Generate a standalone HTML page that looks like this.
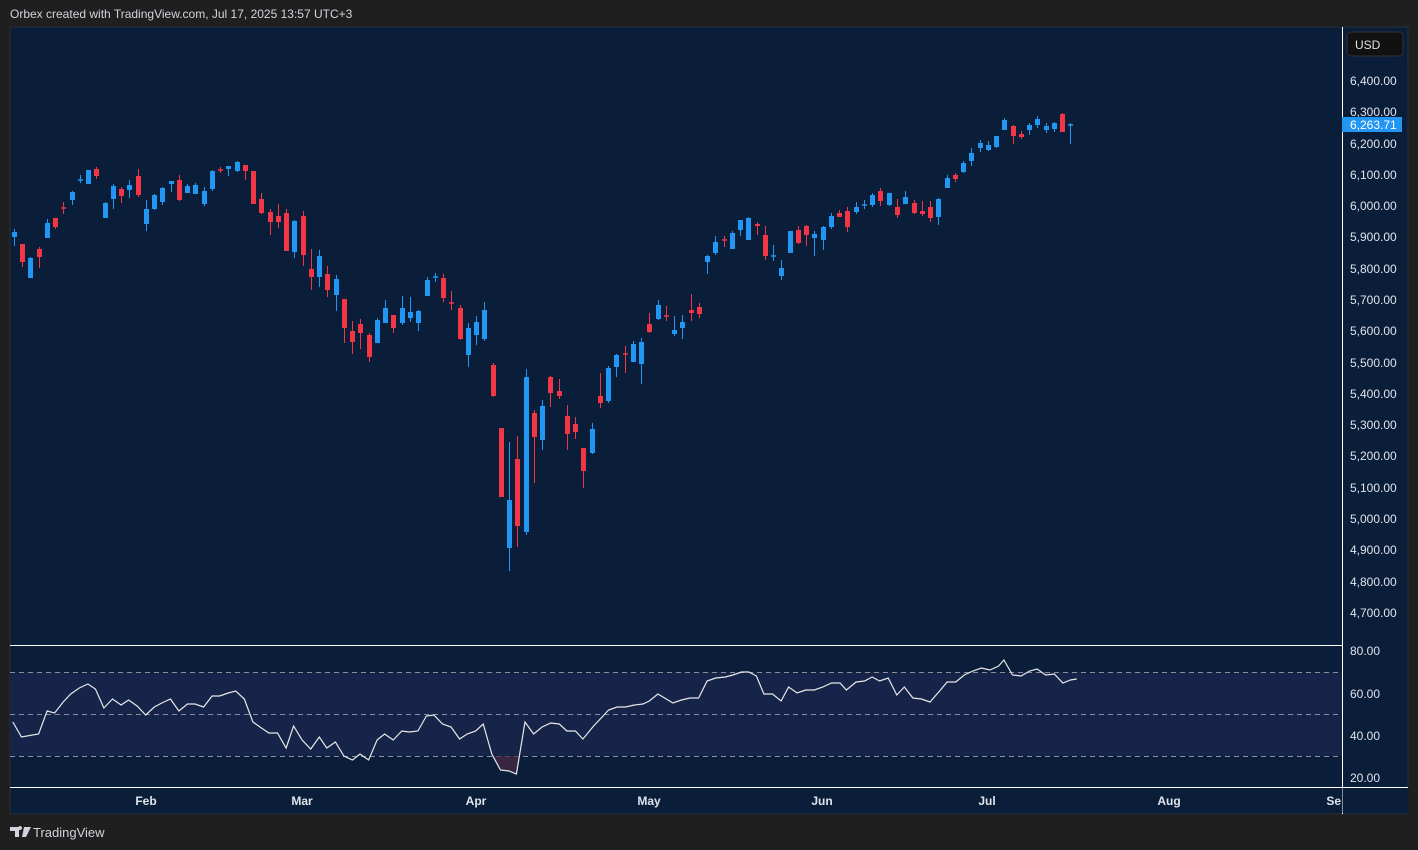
<!DOCTYPE html>
<html><head><meta charset="utf-8"><style>
html,body{margin:0;padding:0;background:#1f1f1f;width:1418px;height:850px;overflow:hidden;font-family:"Liberation Sans",sans-serif}
svg{position:absolute;left:0;top:0}
</style></head><body>
<svg id="s" width="1418" height="850" xmlns="http://www.w3.org/2000/svg" font-family="Liberation Sans, sans-serif">
<rect x="0" y="0" width="1418" height="850" fill="#1f1f1f"/>
<text x="10" y="18" fill="#d1d4dc" font-size="12">Orbex created with TradingView.com, Jul 17, 2025 13:57 UTC+3</text>
<rect x="10" y="27" width="1398" height="787" fill="#0a1e3a" stroke="#2a2e39" stroke-width="1"/>
<rect x="10" y="672" width="1332" height="84" fill="#17244a"/>
<g stroke="#8a8f9a" stroke-dasharray="5,4" stroke-width="1">
<line x1="10" y1="672.5" x2="1342" y2="672.5"/><line x1="10" y1="714.5" x2="1342" y2="714.5"/><line x1="10" y1="756.5" x2="1342" y2="756.5"/>
</g>
<path d="M492,756 L501,770 L509,771 L517,774 L520,756Z" fill="#4a2a45" opacity="0.7"/>
<line x1="10" y1="645.5" x2="1342" y2="645.5" stroke="#ffffff" stroke-width="1"/>
<line x1="10" y1="787.5" x2="1408" y2="787.5" stroke="#ffffff" stroke-width="1"/>
<line x1="1342.5" y1="27" x2="1342.5" y2="814" stroke="#ffffff" stroke-width="1"/>
<g id="c"></g>
<polyline id="rsi" fill="none" stroke="#e8e8e8" stroke-width="1.2"/>
<rect x="1347" y="32" width="56" height="24" rx="4" fill="#111111" stroke="#333" />
<text x="1355" y="49" fill="#e0e0e0" font-size="12">USD</text>
<g fill="#e0e3eb" font-size="12">
<text x="1350" y="85">6,400.00</text>
<text x="1350" y="116">6,300.00</text>
<text x="1350" y="148">6,200.00</text>
<text x="1350" y="179">6,100.00</text>
<text x="1350" y="210">6,000.00</text>
<text x="1350" y="241">5,900.00</text>
<text x="1350" y="273">5,800.00</text>
<text x="1350" y="304">5,700.00</text>
<text x="1350" y="335">5,600.00</text>
<text x="1350" y="367">5,500.00</text>
<text x="1350" y="398">5,400.00</text>
<text x="1350" y="429">5,300.00</text>
<text x="1350" y="460">5,200.00</text>
<text x="1350" y="492">5,100.00</text>
<text x="1350" y="523">5,000.00</text>
<text x="1350" y="554">4,900.00</text>
<text x="1350" y="586">4,800.00</text>
<text x="1350" y="617">4,700.00</text>
<text x="1350" y="655">80.00</text>
<text x="1350" y="698">60.00</text>
<text x="1350" y="740">40.00</text>
<text x="1350" y="782">20.00</text>
</g>
<rect x="1342" y="117" width="60" height="15" fill="#2196f3"/>
<text x="1350" y="129" fill="#ffffff" font-size="12">6,263.71</text>
<g fill="#e0e3eb" font-size="12" font-weight="bold" text-anchor="middle">
<text x="146" y="805">Feb</text><text x="302" y="805">Mar</text><text x="476" y="805">Apr</text>
<text x="649" y="805">May</text><text x="822" y="805">Jun</text><text x="987" y="805">Jul</text>
<text x="1169" y="805">Aug</text><text x="1341" y="805" text-anchor="end">Se</text>
</g>
<rect x="1342.5" y="788" width="66" height="25" fill="#0a1e3a"/>
<path d="M10,827 h9 v10 h-4 v-6 h-5z M20,830 a2,2 0 1,1 0.1,0z M24,827 h7 l-5,10 h-4z" fill="#d1d4dc"/>
<text x="33" y="837" fill="#d1d4dc" font-size="13">TradingView</text>
</svg>
<script>
var B="#2196f3",R="#f23645";
var d=[[14,B,232,237,229,246],[22,R,244,262,244,267],[30,B,258,278,257,278],[39,R,249,257,247,268],[47,B,223,238,219,238],[55,R,218,227,218,229],[63,R,208,208,202,214],[72,B,192,200,191,205],[80,B,180,180,175,183],[88,B,170,184,170,184],[96,R,169,176,167,179],[105,B,203,218,202,218],[113,B,186,199,184,209],[121,R,189,196,187,203],[129,B,185,190,180,198],[138,R,176,195,169,197],[146,B,209,224,200,231],[154,B,195,209,194,210],[162,B,188,202,187,205],[171,B,181,184,181,192],[179,R,180,200,175,201],[187,B,186,193,184,193],[195,B,185,194,183,194],[204,B,191,204,187,206],[212,B,171,189,170,191],[220,R,170,170,167,173],[228,B,166,169,166,176],[237,B,162,171,161,172],[245,R,165,171,165,180],[253,R,171,204,171,204],[261,R,199,213,193,214],[270,R,212,222,209,235],[278,R,216,222,204,228],[286,R,213,251,209,251],[294,B,221,252,220,258],[303,R,216,255,211,266],[311,R,269,277,249,290],[319,B,256,277,250,287],[327,R,274,290,266,297],[336,B,279,295,275,311],[344,R,299,328,299,343],[352,R,331,342,321,354],[360,R,324,333,319,349],[369,R,335,357,333,362],[377,B,320,343,318,343],[385,B,308,323,300,323],[393,R,315,328,315,333],[402,B,308,323,296,325],[410,B,312,318,297,322],[418,B,311,323,310,331],[427,B,280,296,277,296],[435,B,277,277,273,282],[443,R,278,298,274,302],[451,R,303,303,291,310],[460,R,308,339,305,340],[468,B,328,355,323,367],[476,B,322,335,316,345],[484,B,310,339,302,341],[493,R,365,396,363,397],[501,R,428,497,428,497],[509,B,500,548,442,571],[517,R,459,526,436,547],[526,B,377,532,369,535],[534,R,413,437,410,483],[542,B,406,440,400,450],[550,R,377,393,376,407],[559,R,391,396,379,399],[567,R,416,434,405,450],[575,R,424,432,417,439],[583,R,448,471,448,488],[592,B,429,453,423,454],[600,R,396,403,373,408],[608,B,368,401,366,403],[616,B,355,367,354,377],[625,R,354,354,346,373],[633,B,344,362,341,362],[641,B,342,364,338,384],[649,R,324,332,313,333],[658,B,305,319,300,320],[666,R,316,316,306,321],[674,B,330,334,316,336],[682,B,322,328,315,339],[691,R,310,313,294,321],[699,R,307,314,303,318],[707,B,256,262,255,274],[715,B,242,253,236,255],[724,R,240,240,236,247],[732,B,233,249,231,249],[740,B,220,230,220,236],[748,B,218,240,217,240],[757,R,224,226,222,235],[765,R,235,256,226,260],[773,B,256,256,245,261],[781,B,268,276,260,280],[790,B,231,253,231,253],[798,R,230,243,226,244],[806,R,226,235,225,246],[814,B,234,238,231,256],[823,B,227,240,226,250],[831,B,216,227,213,229],[839,R,213,217,210,217],[847,R,211,227,207,232],[856,B,207,212,202,214],[864,B,205,205,200,209],[872,B,195,205,193,207],[880,R,191,201,188,206],[889,B,193,205,193,206],[897,R,207,215,199,218],[905,B,197,204,191,204],[914,R,203,213,200,214],[922,R,211,214,201,216],[930,R,207,218,201,222],[938,B,199,217,198,225],[947,B,178,188,175,188],[955,R,175,179,173,182],[963,B,163,172,161,173],[971,B,153,161,148,166],[980,B,143,148,140,152],[988,B,145,150,141,151],[996,B,136,147,136,148],[1004,B,120,130,118,130],[1013,R,126,136,125,144],[1021,R,134,137,131,139],[1029,B,125,130,123,135],[1037,B,119,125,116,128],[1046,B,126,130,123,133],[1054,B,123,129,122,132],[1062,R,114,132,113,132],[1070,B,125,126,123,144]];
var g=document.getElementById("c"),h="";
d.forEach(function(c){var x=c[0],t=c[2],b=c[3];if(b-t<1.5){t-=0.75;b=t+1.5;}
h+='<line x1="'+(x+0.5)+'" y1="'+c[4]+'" x2="'+(x+0.5)+'" y2="'+c[5]+'" stroke="'+c[1]+'" stroke-width="1"/>';
h+='<rect x="'+(x-2)+'" y="'+t+'" width="5" height="'+(b-t)+'" fill="'+c[1]+'"/>';});
g.innerHTML=h;
var r1=[[12,722],[20,737],[36,734],[44,711],[51,713],[59,702],[66,694],[74,688],[82,684],[89,689],[97,708],[105,699],[113,705],[120,700],[128,706],[136,715],[144,707],[151,703],[159,699],[167,711],[175,704],[182,704],[190,707],[198,696],[205,696],[213,693],[220,691],[228,699],[236,722],[244,728],[251,733],[259,733],[267,748],[274,726],[282,740],[290,749],[298,737],[305,748],[313,742],[321,756],[329,760],[336,754],[344,760],[352,740],[359,734],[367,740],[375,731],[382,732],[390,731],[398,716],[405,715],[413,724],[421,727],[429,739],[436,734],[444,731],[451,724],[459,754],[467,770],[475,771],[482,774],[490,722],[498,734],[506,727],[514,723],[522,724]];
var r2=[[550,723],[558,724],[565,731],[573,731],[580,739],[590,726],[598,717],[604,710],[612,707],[620,707],[628,705],[636,704],[642,701],[650,694],[664,703],[672,700],[680,698],[688,698],[696,681],[704,678],[713,677],[720,675],[728,672],[735,672],[742,676],[749,694],[757,694],[765,701],[772,687],[780,693],[788,690],[796,690],[804,687],[812,683],[820,683],[826,690],[835,682],[843,681],[850,677],[857,681],[865,678],[873,695],[880,687],[888,698],[896,699],[904,702],[913,691],[920,682],[928,682],[936,675],[944,671],[952,668],[960,670],[968,666],[973,660],[981,675],[989,676],[997,671],[1004,669],[1012,675],[1020,674],[1028,683],[1035,680],[1041,679]];
var f=3/2.8,pts=[];
r1.forEach(function(p){pts.push((p[0]*f).toFixed(1)+","+p[1]);});
r2.forEach(function(p){pts.push((540+(p[0]-540)*f).toFixed(1)+","+p[1]);});
document.getElementById("rsi").setAttribute("points",pts.join(" "));
</script>
</body></html>
